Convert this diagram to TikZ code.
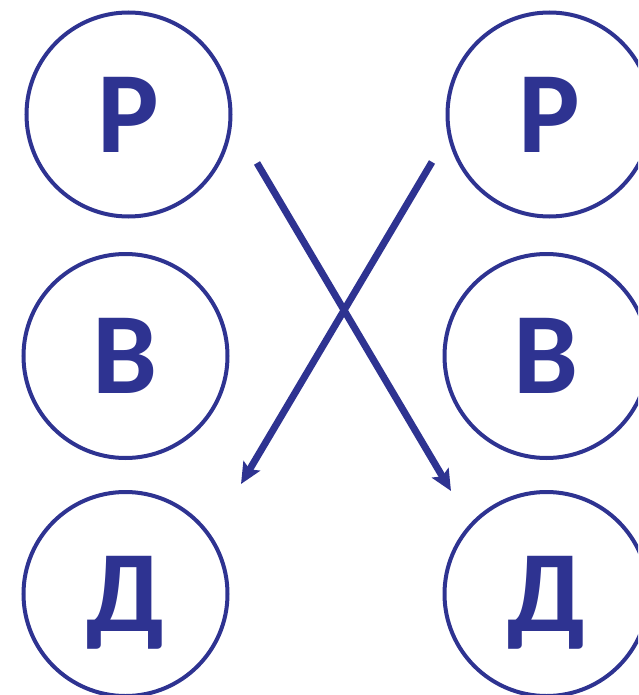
\documentclass[tikz,border=0pt]{standalone}
\usepackage{fontspec}
\setmainfont{Carlito}
\usetikzlibrary{arrows.meta}
\definecolor{ink}{RGB}{46,51,145}
\tikzset{
  letter/.style={circle,draw=ink,line width=4pt,minimum size=204pt,inner sep=0pt,
    text=ink,text depth=0pt,font=\fontsize{116}{116}\selectfont\bfseries},
  cross/.style={draw=ink,line width=7pt,-{Stealth[length=21pt,width=19pt,inset=4pt]}}
}
\begin{document}
\begin{tikzpicture}[x=1pt,y=-1pt]
			\clip (0,0) rectangle (638,695);
			\path
			(257,163) coordinate (A)
			(451,491) coordinate (B)
			(432,162) coordinate (C)
			(241,484) coordinate (D);
			
			\node[letter] (r1) at (128.5,114.5) {Р};
			\node[letter] (v1) at (125.5,356) {В};
			\node[letter] (d1) at (125.5,594) {Д};
			\node[letter] (r2) at (549.5,114.5) {Р};
			\node[letter] (v2) at (546.5,356) {В};
			\node[letter] (d2) at (546.5,594) {Д};
			
			\draw[cross] (A)--(B);
			\draw[cross] (C)--(D);
		\end{tikzpicture}
\end{document}
